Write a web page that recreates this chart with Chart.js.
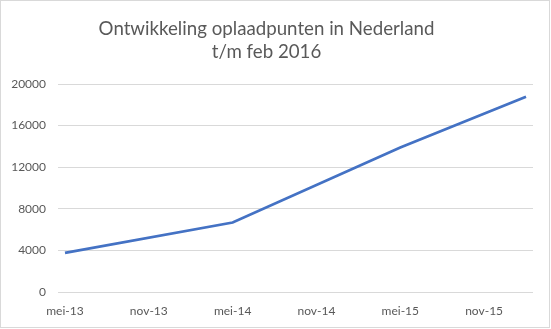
<!DOCTYPE html>
<html>
<head>
<meta charset="utf-8">
<script src="https://cdn.jsdelivr.net/npm/chart.js@4"></script>
<style>
body{margin:0;background:#fff;}
#wrap{width:551px;height:329px;position:relative;}
</style>
</head>
<body>
<div id="wrap"><canvas id="myChart" width="551" height="329"></canvas></div>
<script>
// maanden mei-13 t/m feb-16
var months=['mei-13','jun-13','jul-13','aug-13','sep-13','okt-13','nov-13','dec-13','jan-14','feb-14','mrt-14','apr-14',
 'mei-14','jun-14','jul-14','aug-14','sep-14','okt-14','nov-14','dec-14','jan-15','feb-15','mrt-15','apr-15',
 'mei-15','jun-15','jul-15','aug-15','sep-15','okt-15','nov-15','dec-15','jan-16','feb-16'];
// alleen bekende meetpunten, de rest is null
var pointMonths=['mei-13','mei-14','mei-15','feb-16'];
var pointValues=[3760,6680,13900,18780];
var tickLabels=['mei-13','nov-13','mei-14','nov-14','mei-15','nov-15'];
var yTicks=[0,4000,8000,12000,16000,20000];

var values=[];
for(var i=0;i<months.length;i++){
   var k=pointMonths.indexOf(months[i]);
   values.push(k>=0?pointValues[k]:null);
}

var frame={
  id:'frame',
  afterDraw:function(chart){
    var ctx=chart.ctx;
    ctx.save();
    ctx.strokeStyle='#d9d9d9';
    ctx.lineWidth=1;
    ctx.strokeRect(0.5,0.5,549,327);
    ctx.restore();
  }
};

const data={
  labels:months,
  datasets:[{
    label:'Oplaadpunten',
    data:values,
    borderColor:'#4472C4',
    backgroundColor:'#4472C4',
    borderWidth:2.75,
    pointRadius:0,
    tension:0,
    spanGaps:true
  }]
};

const config={
  type:'line',
  data:data,
  plugins:[frame],
  options:{
    responsive:false,
    animation:false,
    layout:{padding:{left:0,right:18,top:0,bottom:0}},
    plugins:{
      legend:{display:false},
      tooltip:{enabled:false},
      title:{
        display:true,
        text:['Ontwikkeling oplaadpunten in Nederland','t/m feb 2016'],
        color:'#595959',
        font:{family:'Lato',size:18.7,weight:'normal',lineHeight:1.23},
        padding:{top:17,bottom:21}
      }
    },
    scales:{
      x:{
        offset:true,
        grid:{display:false},
        border:{display:false},
        afterFit:function(scale){scale.height=37;},
        ticks:{
          autoSkip:false,
          maxRotation:0,
          padding:4,
          color:'#595959',
          font:{family:'Lato',size:12},
          callback:function(val,idx){
            var l=months[idx];
            return tickLabels.indexOf(l)>=0?l:'';
          }
        }
      },
      y:{
        min:yTicks[0],
        max:yTicks[yTicks.length-1],
        afterFit:function(scale){scale.width=58;},
        afterBuildTicks:function(scale){scale.ticks=yTicks.map(function(v){return {value:v};});},
        grid:{color:'#d9d9d9',lineWidth:1,drawTicks:false},
        border:{display:false},
        ticks:{
          padding:12,
          color:'#595959',
          font:{family:'Lato',size:12},
          callback:function(v){return v;}
        }
      }
    }
  }
};
const myChart=new Chart(document.getElementById('myChart'),config);
</script>
</body>
</html>
